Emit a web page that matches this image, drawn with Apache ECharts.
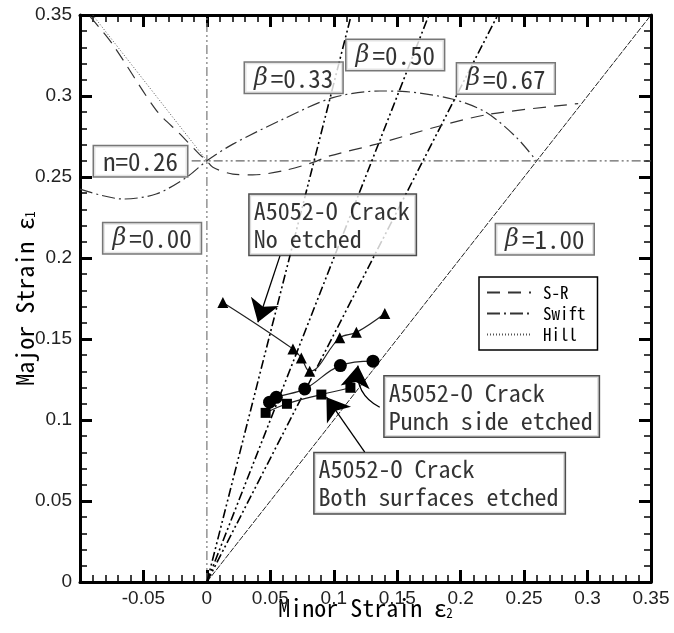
<!DOCTYPE html>
<html><head><meta charset="utf-8">
<script src="https://cdn.jsdelivr.net/npm/echarts@6/dist/echarts.min.js"></script>
<style>html,body{margin:0;padding:0;background:#fff}#c{width:674px;height:633px}</style>
</head><body><div id="c"></div>
<script>
// axis ranges
const xMin = -0.1, xMax = 0.35, yMin = 0, yMax = 0.35, tickStep = 0.05;

// forming limit curves
const srX = [-0.092, -0.0744, -0.0397, -0.0215, -0.0058, 0, 0.0047, 0.0205, 0.036, 0.06, 0.0836, 0.0968, 0.1336, 0.1835, 0.223, 0.2926];
const srY = [0.349, 0.332, 0.291, 0.2768, 0.264, 0.26, 0.256, 0.2518, 0.2513, 0.2538, 0.259, 0.263, 0.2703, 0.2815, 0.2888, 0.2953];
const swiftX = [-0.1, -0.0662, -0.04, -0.0162, 0, 0.0205, 0.06, 0.0994, 0.1362, 0.157, 0.194, 0.2203, 0.244, 0.2597];
const swiftY = [0.2425, 0.2364, 0.2395, 0.2497, 0.26, 0.2703, 0.2857, 0.299, 0.3031, 0.3027, 0.298, 0.2898, 0.2744, 0.26];
const hillX = [-0.09, 0];
const hillY = [0.35, 0.26];

// n value line
const nValue = 0.26;
const nLineX = [-0.012, 0.35];

// strain ratio lines (slope)
const betaSlopes = [0.325, 0.5, 0.655];

// measured crack data
const noEtchX = [0.0126, 0.0678, 0.0744, 0.081, 0.1047, 0.1178, 0.1402];
const noEtchY = [0.1726, 0.1439, 0.1383, 0.1301, 0.1507, 0.1541, 0.1658];
const punchX = [0.0494, 0.0547, 0.0771, 0.1052, 0.1309];
const punchY = [0.111, 0.114, 0.1192, 0.1336, 0.1363];
const bothX = [0.0463, 0.0631, 0.0902, 0.1131];
const bothY = [0.1044, 0.11, 0.1157, 0.1199];

// label boxes (centre, data coordinates)
const betaLabelPrefix = ['β', 'β', 'β', 'β', 'β', 'n'];
const betaLabelValue = ['0.00', '0.33', '0.50', '0.67', '1.00', '0.26'];
const betaLabelX = [-0.0432, 0.0684, 0.1484, 0.2356, 0.2663, -0.0523];
const betaLabelY = [0.2122, 0.3112, 0.3253, 0.3108, 0.2116, 0.2597];

// crack annotation boxes (left text edge, data coordinates)
const crackText = ['A5052-O Crack\nNo etched', 'A5052-O Crack\nPunch side etched', 'A5052-O Crack\nBoth surfaces etched'];
const crackX = [0.0337, 0.1401, 0.0849];
const crackY = [0.2205, 0.1083, 0.0609];

// arrows
const arrowFromX = [0.0576, 0.1362, 0.1244];
const arrowFromY = [0.2013, 0.1079, 0.0801];
const arrowToX = [0.0402, 0.1191, 0.0942];
const arrowToY = [0.1603, 0.1336, 0.1141];
const arrowCurve = [0, 0.35, 0];

const zip = (a, b) => a.map((v, i) => [v, b[i]]);
const fmt = v => String(+v.toFixed(2));
const MONO = "'Noto Sans Mono CJK JP', 'Liberation Mono', monospace";

const chart = echarts.init(document.getElementById('c'), null, {renderer: 'canvas'});

function axisStyle() {
  return {
    axisLine: {show: true, onZero: false, lineStyle: {color: '#000', width: 3}},
    axisTick: {show: true, inside: true, length: 12, lineStyle: {color: '#000', width: 3}},
    minorTick: {show: true, splitNumber: 5, length: 7, lineStyle: {color: '#000', width: 1.5}},
    splitLine: {show: true, lineStyle: {color: 'rgba(255,255,255,0)', width: 0}}
  };
}

const betaSeries = betaSlopes.map(b => ({
  type: 'line', silent: true, symbol: 'none', z: 2,
  data: [[0, 0], [yMax * b, yMax]],
  lineStyle: {color: '#000', width: 1.6, type: [9, 3, 2, 3, 2, 3]}
}));

chart.setOption({
  animation: false,
  backgroundColor: '#fff',
  grid: {left: 80, right: 23, top: 15, bottom: 51, containLabel: false, outerBoundsMode: 'none'},
  legend: {
    data: ['S-R', 'Swift', 'Hill'],
    orient: 'vertical', left: 479, top: 277,
    padding: [7, 12, 7, 7], itemGap: 4, itemWidth: 44, itemHeight: 16,
    borderColor: '#000', borderWidth: 1.5, backgroundColor: '#fff',
    itemStyle: {opacity: 0},
    textStyle: {fontFamily: MONO, fontSize: 17, color: '#000', padding: [0, 0, 0, 7]},
    selectedMode: false
  },
  xAxis: [
    Object.assign({
      type: 'value', min: xMin, max: xMax, interval: tickStep, position: 'bottom',
      name: 'Minor Strain ε{s|2}', nameLocation: 'middle', nameGap: 13, nameMoveOverlap: false,
      nameTextStyle: {fontFamily: MONO, fontSize: 24, color: '#000', verticalAlign: 'top',
        rich: {s: {fontFamily: MONO, fontSize: 13, padding: [12, 0, 0, 0], color: '#000'}}},
      axisLabel: {fontFamily: "'Liberation Sans', Arial, sans-serif", fontSize: 19, color: '#222', margin: 7,
        formatter: v => Math.abs(v - xMin) < 1e-9 ? '' : fmt(v)}
    }, axisStyle()),
    Object.assign({
      type: 'value', min: xMin, max: xMax, interval: tickStep, position: 'top',
      axisLabel: {show: false}
    }, axisStyle())
  ],
  yAxis: [
    Object.assign({
      type: 'value', min: yMin, max: yMax, interval: tickStep, position: 'left',
      name: 'Major Strain ε{s|1}', nameLocation: 'middle', nameGap: 43, nameMoveOverlap: false,
      nameTextStyle: {fontFamily: MONO, fontSize: 24, color: '#000',
        rich: {s: {fontFamily: MONO, fontSize: 13, padding: [12, 0, 0, 0], color: '#000'}}},
      axisLabel: {fontFamily: "'Liberation Sans', Arial, sans-serif", fontSize: 19, color: '#222', margin: 8,
        formatter: v => fmt(v)}
    }, axisStyle()),
    Object.assign({
      type: 'value', min: yMin, max: yMax, interval: tickStep, position: 'right',
      axisLabel: {show: false}
    }, axisStyle())
  ],
  series: [
    {type: 'line', silent: true, symbol: 'none', z: 1, data: [[0, 0], [0, yMax]],
      lineStyle: {color: '#777', width: 1.2, type: [9, 3, 2, 3, 2, 3]}},
    {type: 'line', silent: true, symbol: 'none', z: 1, data: [[0, 0], [yMax, yMax]],
      lineStyle: {color: '#222', width: 1, type: [6, 1.5]}},
    {type: 'line', silent: true, symbol: 'none', z: 1, data: zip(nLineX, [nValue, nValue]),
      lineStyle: {color: '#666', width: 1.2, type: [9, 3, 2, 3, 2, 3]}},
    ...betaSeries,
    {name: 'S-R', type: 'line', silent: true, symbol: 'none', smooth: 0.3, z: 2, data: zip(srX, srY),
      itemStyle: {color: '#333'}, lineStyle: {color: '#333', width: 1.2, type: [13, 8]}},
    {name: 'Swift', type: 'line', silent: true, symbol: 'none', smooth: 0.3, z: 2, data: zip(swiftX, swiftY),
      itemStyle: {color: '#333'}, lineStyle: {color: '#333', width: 1.2, type: [13, 4, 2, 4]}},
    {name: 'Hill', type: 'line', silent: true, symbol: 'none', z: 2, data: zip(hillX, hillY),
      itemStyle: {color: '#555'}, lineStyle: {color: '#555', width: 1, type: [1, 2]}},
    {name: 'No etched', type: 'line', silent: true, smooth: 0.4, symbol: 'triangle', symbolSize: 11, z: 4,
      data: zip(noEtchX, noEtchY), itemStyle: {color: '#000'}, lineStyle: {color: '#222', width: 1.2}},
    {name: 'Punch side etched', type: 'line', silent: true, smooth: 0.4, symbol: 'circle', symbolSize: 13, z: 4,
      data: zip(punchX, punchY), itemStyle: {color: '#000'}, lineStyle: {color: '#222', width: 1.2}},
    {name: 'Both surfaces etched', type: 'line', silent: true, smooth: 0.4, symbol: 'rect', symbolSize: 10, z: 4,
      data: zip(bothX, bothY), itemStyle: {color: '#000'}, lineStyle: {color: '#222', width: 1.2}},
    {type: 'lines', coordinateSystem: 'cartesian2d', silent: true, z: 5,
      symbol: ['none', 'arrow'], symbolSize: 22,
      lineStyle: {color: '#000', width: 1.3, opacity: 1},
      data: arrowFromX.map((x, i) => ({coords: [[x, arrowFromY[i]], [arrowToX[i], arrowToY[i]]],
        lineStyle: {curveness: arrowCurve[i]}}))},
    {type: 'scatter', silent: true, symbolSize: 0, z: 10,
      data: betaLabelX.map((x, i) => [x, betaLabelY[i], betaLabelPrefix[i], betaLabelValue[i]]),
      label: {show: true, position: 'inside',
        formatter: p => (p.data[2] === 'β' ? '{b|β}' : '{t|' + p.data[2] + '}') + '{t|=' + p.data[3] + '}',
        backgroundColor: '#fff', borderColor: '#555', borderWidth: 1.5, padding: [3, 9, 2, 9],
        rich: {
          b: {fontFamily: "'DejaVu Serif', serif", fontStyle: 'italic', fontSize: 24, color: '#000', padding: [0, 3, 0, 0]},
          t: {fontFamily: MONO, fontSize: 25, color: '#000'}
        }}},
    {type: 'scatter', silent: true, symbolSize: 0, z: 10,
      data: crackX.map((x, i) => [x, crackY[i], crackText[i]]),
      label: {show: true, position: 'inside', align: 'left', formatter: p => p.data[2],
        fontFamily: MONO, fontSize: 24, lineHeight: 28, color: '#000', backgroundColor: '#fff',
        borderColor: '#222', borderWidth: 1.5, padding: [2, 6, 2, 4]}}
  ]
});
</script></body></html>
